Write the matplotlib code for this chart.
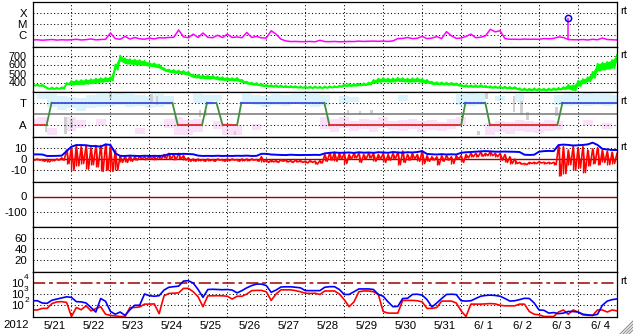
import numpy as np
import matplotlib
matplotlib.use('Agg')
import matplotlib.pyplot as plt
from matplotlib.lines import Line2D
from matplotlib.transforms import offset_copy

plt.rcParams['font.family'] = ['Liberation Sans', 'DejaVu Sans']

nan = np.nan

# 3-hourly samples, days counted from the left edge of the chart
t = np.arange(121) / 8.0
# sector scatter is read at 6-hour steps
ts = np.arange(61) / 4.0

day_labels = ['5/21', '5/22', '5/23', '5/24', '5/25', '5/26', '5/27', '5/28',
              '5/29', '5/30', '5/31', '6/ 1', '6/ 2', '6/ 3', '6/ 4']

# GOES x-ray flux, log10 W/m2
xray_log = [
    -6.42, -6.40, -6.44, -6.41, -6.38, -6.43, -6.40, -6.42,
    -6.40, -6.36, -6.42, -6.39, -6.33, -6.41, -6.38, -6.36,
    -5.80, -6.30, -6.36, -6.10, -6.34, -6.20, -6.32, -6.35,
    -6.25, -6.33, -6.22, -6.24, -6.20, -6.18, -5.53, -6.15,
    -6.22, -5.90, -6.20, -5.80, -6.18, -6.22, -6.00, -6.21,
    -5.90, -6.20, -6.15, -6.22, -5.75, -6.20, -6.10, -6.23,
    -6.25, -5.60, -5.90, -6.35, -6.50, -6.56, -6.55, -6.57,
    -6.57, -6.55, -6.58, -6.45, -6.56, -6.57, -6.55, -6.58,
    -6.57, -6.55, -6.56, -6.52, -6.55, -6.53, -6.52, -6.54,
    -6.52, -6.55, -6.50, -6.30, -6.28, -6.20, -6.30, -6.27,
    -6.10, -6.30, -6.25, -6.12, -6.30, -5.68, -6.05, -6.28,
    -6.25, -6.10, -5.90, -6.22, -6.18, -6.05, -5.47, -5.70,
    -5.60, -6.30, -6.36, -6.35, -6.37, -6.34, -6.36, -6.35,
    -6.36, -6.30, -6.32, -6.28, -6.15, -6.20, -6.38, -6.40,
    -6.40, -6.38, -6.42, -6.36, -6.40, -6.25, -6.38, -6.40,
    -6.42]
flare_t = [13.74]
flare_base = [-6.38]
flare_peak = [-4.49]

# solar wind speed, km/s (low / high of the noisy trace)
speed_lo = [
    365, 362, 358, 328, 326, 328, 330, 378,
    375, 378, 380, 385, 388, 395, 405, 410,
    420, 540, 640, 610, 605, 600, 595, 590,
    580, 575, 560, 530, 515, 505, 500, 495,
    480, 455, 450, 445, 440, 445, 430, 425,
    425, 420, 418, 400, 385, 375, 370, 360,
    355, 352, 350, 348, 345, 345, 342, 340,
    340, 338, 340, 338, 340, 342, 345, 350,
    358, 360, 362, 365, 368, 375, 395, 405,
    410, 405, 408, 415, 410, 405, 408, 410,
    400, 395, 380, 378, 376, 375, 372, 368,
    355, 352, 350, 348, 350, 345, 340, 340,
    338, 335, 332, 330, 315, 315, 312, 315,
    314, 312, 314, 316, 320, 325, 330, 310,
    360, 390, 410, 450, 530, 540, 550, 560,
    640]
speed_hi = [
    380, 378, 375, 342, 345, 343, 348, 395,
    420, 425, 428, 432, 438, 445, 450, 455,
    460, 600, 700, 670, 660, 655, 650, 640,
    620, 615, 600, 560, 545, 540, 535, 530,
    520, 490, 485, 480, 478, 475, 465, 460,
    455, 450, 452, 430, 410, 400, 395, 385,
    375, 372, 370, 368, 365, 362, 360, 358,
    355, 355, 356, 354, 356, 358, 360, 365,
    380, 382, 385, 388, 392, 400, 430, 445,
    450, 445, 448, 452, 450, 445, 448, 450,
    440, 430, 410, 405, 402, 400, 398, 392,
    375, 372, 370, 370, 372, 365, 360, 358,
    356, 355, 352, 350, 335, 335, 332, 335,
    334, 332, 334, 336, 342, 350, 375, 370,
    420, 440, 460, 520, 610, 620, 630, 650,
    710]

# IMF sector: breakpoints of the toward(+1)/away(-1) trace
sector_t = [0, 0.36, 0.49, 3.59, 3.73, 4.35, 4.48, 4.72, 4.88, 5.25, 5.36,
            7.49, 7.62, 11.0, 11.11, 11.62, 11.74, 13.47, 13.6, 15]
sector_v = [-1, -1, 1, 1, -1, -1, 1, 1, -1, -1, 1, 1, -1, -1, 1, 1, -1, -1, 1, 1]

toward_lo = [nan, 1.3, 0.6, 0.4, 0.5, 0.3, 0.5, 0.6, 0.7, 0.8, 0.6, 0.7, 0.5, 0.6, 0.8,
             nan, nan, 1.0, 0.8, 1.2, nan, nan, 0.9, 0.8, 0.6, 0.8, 0.7, 0.9, 0.8, 0.6,
             0.7, nan, 1.0, 1.1, nan, nan, nan, nan, 1.2, nan, nan, nan, nan, nan, 0.8,
             0.7, 0.8, nan, 1.2, nan, 1.1, nan, nan, nan, 0.8, 0.7, 0.8, 0.7, 0.8, 0.7, 0.8]
toward_hi = [nan, 1.8, 1.8, 1.6, 1.5, 1.4, 1.7, 1.8, 1.8, 1.9, 1.8, 1.7, 1.6, 1.8, 1.6,
             nan, nan, 1.8, 1.7, 1.7, nan, nan, 1.8, 1.7, 1.6, 1.8, 1.7, 1.8, 1.8, 1.8,
             1.7, nan, 1.6, 1.5, nan, nan, nan, nan, 1.7, nan, nan, nan, nan, nan, 1.8,
             1.9, 1.8, nan, 1.6, nan, 1.8, nan, nan, nan, 1.7, 1.8, 1.8, 1.9, 1.8, 1.8, 1.7]
away_lo = [-0.95, -0.9, -1.9, nan, -1.5, -1.2, nan, -1.0, nan, nan, nan, -1.8, nan, nan, -1.2,
           -1.9, -1.9, -1.6, nan, -1.3, -1.9, -1.9, nan, -1.4, nan, nan, nan, nan, nan, nan,
           -1.3, -1.6, -1.2, -1.5, -1.3, -1.6, -1.2, -1.4, -1.5, -1.3, -1.6, -1.4, -1.5, -1.3, -1.0,
           nan, nan, -1.9, -1.6, -1.8, -1.5, -1.6, -1.7, -1.5, -1.4, nan, nan, -1.0, nan, -1.3, nan]
away_hi = [-0.4, -0.3, -1.2, nan, -0.3, -0.5, nan, -0.4, nan, nan, nan, -1.2, nan, nan, -0.4,
           -0.3, -0.5, -0.4, nan, -0.6, -0.8, -1.0, nan, -0.9, nan, nan, nan, nan, nan, nan,
           -0.3, -0.4, -0.3, -0.6, -0.4, -0.5, -0.3, -0.6, -0.5, -0.4, -0.6, -0.5, -0.7, -0.4, -0.3,
           nan, nan, -0.8, -0.6, -0.7, -0.5, -0.6, -0.7, -0.5, -0.6, nan, nan, -0.5, nan, -0.8, nan]
gray_t = [0.35, 0.85, 1.0, 2.0, 3.05, 3.2, 4.3, 4.45, 5.2, 8.1, 8.4, 8.7,
          11.45, 11.65, 12.35, 12.55, 12.7, 13.45]
gray_lo = [-1.6, -1.8, -1.2, 1.4, 1.0, 0.8, -0.3, -0.2, -1.9, -0.1, -0.1, 0.0,
           -1.9, 1.3, 0.2, -0.1, -0.5, -0.2]
gray_hi = [-1.1, -0.3, -0.4, 1.9, 1.8, 1.6, 0.4, 0.3, -1.5, 0.4, 0.3, 0.4,
           -1.5, 1.9, 1.6, 1.2, 0.2, 0.6]

# IMF |B| and Bz, nT
bt = [
    4.1, 4.1, 4.0, 2.7, 2.7, 2.8, 3.0, 7.0,
    11.0, 12.4, 12.4, 12.2, 11.5, 11.5, 11.0, 13.0,
    12.5, 5.0, 2.8, 2.7, 3.0, 2.8, 2.6, 2.9,
    2.7, 2.8, 2.7, 3.0, 4.4, 4.5, 4.4, 4.6,
    4.4, 4.2, 3.0, 2.7, 2.8, 2.7, 2.9, 2.7,
    2.8, 2.7, 2.9, 2.8, 3.0, 2.7, 2.8, 4.6,
    4.6, 4.0, 3.8, 3.6, 3.5, 3.8, 3.6, 3.5,
    3.6, 3.6, 3.7, 3.6, 5.0, 5.5, 5.8, 5.5,
    5.6, 5.8, 5.4, 6.0, 5.6, 5.8, 5.5, 6.0,
    5.8, 5.5, 6.2, 5.8, 5.6, 6.0, 5.8, 6.2,
    7.0, 4.5, 4.2, 4.0, 4.3, 4.0, 4.2, 4.0,
    5.5, 6.0, 6.2, 6.5, 6.8, 7.0, 6.8, 6.5,
    6.5, 6.6, 6.5, 6.4, 6.2, 3.8, 3.6, 3.8,
    6.5, 7.0, 7.2, 7.0, 12.4, 12.8, 12.5, 12.0,
    12.2, 12.5, 13.0, 14.5, 12.5, 9.0, 8.5, 8.0,
    8.0]
bz_lo = [
    -1, -1, -2, -2.5, -1.5, -1, -1, -4,
    -10, -6, -4, -9, -5, -7, -11, -10,
    -11, -10, -3, -3, -2, -1, 0, -0.5,
    0, -0.5, 0, 0.5, 0, -0.5, 0, -1,
    -2, -2, -1.5, -2, -1.5, -2, -1, -2,
    -1.5, -1, -2, -1.5, -1.5, -1, -2, -2.5,
    -3, -2.5, -3, -2, -2.5, -3, -2.5, -3,
    -3.5, -3, -4.5, -3.5, -2, -1, -2, 0,
    -4, 0, 1, -3, 0, 1, -2, 0,
    -3, -1, 0, -5, -3, -1, 0, -2,
    -4, -2, -1, -5, -2, -1, -4, 0,
    -3, 1, 2, 2, 2.5, 3, 3, 2,
    -1, -3, -4, -4, -4.5, -5, -4, -4,
    -3.5, -4, -4, -5, -15, -13, -5, -10,
    -8, -12, -6, -4, -5, -3, -5, -4,
    -3]
bz_hi = [
    0, 0, -0.5, -0.5, -0.5, 0, 1, 8,
    11, 12, 11, 12, 10, 12, 12, 13,
    12, 8, 3, 2.5, 3, 2, 2.5, 2,
    3, 2, 3, 4, 5, 4, 5, 3,
    1, 0, 0, -0.5, 0, -0.5, 0, -0.5,
    0, 0, -0.5, 0, 0, 0, -0.5, 2,
    -1, -1, -1.5, -0.5, -1, -1.5, -1, -1.5,
    -2, -1.5, -2, -1.5, 4, 5, 6, 5,
    5, 4, 5, 5, 4, 5, 5, 4,
    5, 4, 5, 6, 7, 4, 5, 4,
    7, 3, 2, 2, 3, 3, 2, 3,
    3, 4, 5, 5, 6, 5, 6.5, 5,
    5, 4, 2, 0, -3, -4, -3, -3,
    -2.5, -3, -3, -3, 12, 11, 8, 11,
    10, 11, 8, 9, 10, 8, 7, 6,
    5]

# electron flux, log10 (two channels)
elec_blue = [
    2.40, 2.40, 2.20, 2.17, 2.45, 2.55, 2.65, 2.75,
    2.70, 2.32, 2.30, 2.20, 1.80, 1.40, 2.60, 2.35,
    1.45, 1.20, 1.40, 1.10, 1.60, 2.00, 2.00, 3.00,
    2.85, 2.80, 2.85, 3.35, 3.60, 3.65, 3.70, 4.15,
    4.18, 3.97, 3.40, 2.70, 3.40, 3.42, 3.40, 3.38,
    3.40, 3.35, 3.10, 3.30, 3.55, 3.75, 3.88, 3.88,
    3.75, 3.15, 3.35, 3.62, 3.64, 3.64, 3.60, 3.55,
    3.30, 3.30, 3.30, 3.30, 3.60, 3.65, 3.65, 3.40,
    2.96, 2.96, 3.20, 3.45, 3.45, 3.45, 3.40, 2.96,
    2.80, 2.30, 1.87, 1.90, 2.60, 2.62, 2.96, 2.98,
    2.90, 2.50, 1.85, 2.20, 2.60, 2.96, 2.98, 2.95,
    2.40, 2.37, 2.40, 2.60, 2.80, 2.87, 2.90, 2.87,
    2.80, 2.60, 2.37, 2.40, 2.50, 2.62, 2.60, 2.20,
    1.58, 1.55, 1.30, 1.35, 1.25, 1.30, 1.45, 1.44,
    1.40, 1.20, 1.15, 1.10, 1.20, 2.00, 2.37, 2.50,
    2.56]
elec_red = [
    1.58, 1.58, 1.72, 1.72, 2.15, 2.30, 2.32, 2.25,
    1.00, 1.80, 1.60, 1.95, 1.50, 1.70, 1.87, 1.20,
    1.10, 1.05, 1.00, 1.00, 1.80, 1.80, 1.85, 2.10,
    2.10, 2.12, 1.25, 2.84, 3.05, 3.07, 3.10, 3.50,
    3.50, 3.20, 2.75, 1.87, 2.84, 2.84, 2.85, 2.84,
    2.80, 2.55, 2.80, 2.80, 3.00, 3.30, 3.32, 3.32,
    3.20, 2.43, 3.00, 3.37, 3.37, 3.37, 3.30, 3.20,
    3.07, 3.05, 3.07, 2.96, 3.27, 3.27, 3.27, 3.00,
    2.50, 1.87, 2.30, 3.20, 3.27, 3.27, 3.20, 2.96,
    1.44, 1.30, 1.30, 1.30, 2.43, 2.43, 2.43, 2.40,
    2.30, 1.72, 1.72, 1.80, 2.37, 2.37, 2.37, 2.20,
    1.50, 1.00, 2.10, 2.10, 2.10, 2.12, 2.15, 2.12,
    2.00, 1.95, 1.95, 1.95, 2.10, 2.10, 1.44, 1.20,
    1.15, 1.00, 1.00, 1.00, 1.40, 1.58, 1.20, 1.58,
    1.40, 1.15, 1.10, 1.10, 1.58, 1.58, 1.40, 1.58,
    1.50]
elec_ticks = [1e4, 1e3, 1e2]
elec_exps = ['4', '3', '2']

W, H = 633, 334
fig = plt.figure(figsize=(W / 100, H / 100), dpi=100)
fig.patch.set_facecolor('white')

LEFT, RIGHT, TOP, PH = 32.5, 617.0, 1.5, 45.0
dot = dict(color='black', linewidth=0.75, linestyle=(0, (1, 2.3)), zorder=0.5)
FS = 8.2


def panel(i, ylim, ticks, labels, grid, rt=None, log=False, fs=FS, pad=4):
    bottom = TOP + PH * (i + 1)
    ax = fig.add_axes([LEFT / W, 1 - bottom / H, (RIGHT - LEFT) / W, PH / H])
    if log:
        ax.set_yscale('log')
    ax.set_xlim(0, 15)
    ax.set_ylim(*ylim)
    ax.set_xticks([])
    ax.set_yticks(ticks)
    ax.set_yticklabels(labels, fontsize=fs)
    ax.minorticks_off()
    ax.tick_params(length=0, pad=pad)
    for d in range(1, 15):
        ax.axvline(d, **dot)
    for g in grid:
        ax.axhline(g, **dot)
    for s in ax.spines.values():
        s.set_linewidth(0.9)
    if rt is not None:
        ax.text(1.005, rt, 'rt', transform=ax.get_yaxis_transform(),
                fontsize=FS, va='center', ha='left')
    return ax


# 1: x-ray
ax1 = panel(0, (1e-7, 1e-3), [1e-4, 1e-5, 1e-6], ['X', 'M', 'C'],
            [1e-4, 1e-5, 1e-6], rt=1.3e-4, log=True)
ax1.plot(t, 10 ** np.array(xray_log), color='#ff00ff', lw=1.1)
ax1.vlines(flare_t, 10 ** np.array(flare_base), 10 ** np.array(flare_peak),
           color='#ff00ff', lw=1.1)
ax1.plot(flare_t, 10 ** np.array(flare_peak), 'o', mfc='none', mec='#0000ff',
         ms=4.5, mew=1.1)

# 2: solar wind speed
ax2 = panel(1, (300, 800), [400, 500, 600, 700], ['400', '500', '600', '700'],
            [400, 500, 600, 700], rt=700, fs=7.8)
ax2.fill_between(t, speed_lo, speed_hi, color='#00ff00', lw=0)
zig_t = np.column_stack([t, t + 1 / 16]).ravel()[:-1]
zig_v = np.column_stack([speed_hi, speed_lo]).ravel()[:-1]
ax2.plot(zig_t, zig_v, color='#00ff00', lw=1.2)

# 3: IMF sector
ax3 = panel(2, (-2, 2), [1, -1], ['T', 'A'], [1, -1], rt=1.15)
ax3.bar(ts, np.array(toward_hi) - np.array(toward_lo), bottom=toward_lo,
        width=0.25, color='#b8e8fa', alpha=0.5, lw=0, zorder=0.3)
ax3.bar(ts, np.array(away_hi) - np.array(away_lo), bottom=away_lo,
        width=0.25, color='#f7c2f2', alpha=0.5, lw=0, zorder=0.3)
ax3.bar(gray_t, np.array(gray_hi) - np.array(gray_lo), bottom=gray_lo,
        width=0.06, color='#d0d0d0', lw=0, zorder=0.35)
ax3.axhline(0, color='#808080', lw=1.2, zorder=1)
for k in range(len(sector_t) - 1):
    v0, v1 = sector_v[k], sector_v[k + 1]
    if v0 != v1:
        c = '#3f8f3f'
    elif v0 > 0:
        c = '#3f4fe0'
    else:
        c = '#e02828'
    ax3.plot(sector_t[k:k + 2], sector_v[k:k + 2], color=c, lw=1.3, zorder=2)

# 4: Bt / Bz
ax4 = panel(3, (-20, 20), [10, 0, -10], ['10', '0', '-10'], [10, -10], rt=11)
ax4.axhline(0, color='#a00000', lw=1.0, zorder=1)
zb_t = np.column_stack([t, t + 1 / 16]).ravel()[:-1]
zb_v = np.column_stack([bz_hi, bz_lo]).ravel()[:-1]
ax4.plot(zb_t, zb_v, color='#ff0000', lw=1.2, zorder=2)
ax4.vlines(t, bz_lo, bz_hi, color='#ff0000', lw=1.0, zorder=2)
ax4.plot(t, bt, color='#0000ff', lw=1.4, zorder=3)

# 5: Dst
ax5 = panel(4, (-200, 100), [0, -100], ['0', '-100'], [-100])
ax5.axhline(0, color='#a00000', lw=1.0, zorder=1)

# 6: empty
ax6 = panel(5, (0, 80), [60, 40, 20], ['60', '40', '20'], [60, 40, 20])

# 7: electrons; "10" as tick label, exponent as a small raised text beside it
ax7 = panel(6, (1e1, 1e5), elec_ticks, ['10'] * 3, [1e3, 1e2],
            rt=1.3e4, log=True, fs=FS, pad=6.5)
sup = offset_copy(ax7.get_yaxis_transform(), fig=fig, x=-6.0, y=3.5, units='points')
for v, e in zip(elec_ticks, elec_exps):
    ax7.text(0, v, e, transform=sup, fontsize=6, ha='left', va='center',
             clip_on=False)
ax7.axhline(1e4, color='#a00000', lw=1.1, dashes=(8, 2.5, 2.5, 2.5), zorder=1)
ax7.plot(t, 10 ** np.array(elec_red), color='#ff0000', lw=1.2, zorder=2)
ax7.plot(t, 10 ** np.array(elec_blue), color='#0000ff', lw=1.2, zorder=3)
ax7.set_xticks([i + 0.58 for i in range(15)])
ax7.set_xticklabels(day_labels, fontsize=FS)
ax7.tick_params(axis='x', length=0, pad=3)
fig.text(16 / W, 1 - 325 / H, '2012', fontsize=FS, ha='center', va='center')

# window resize grip
for k in range(4):
    x0 = 620 + 3 * k
    fig.add_artist(Line2D([x0 / W, 633 / W], [0, (633 - x0) / H],
                          color='#909090', lw=0.8))

fig.savefig('out.png', dpi=100)
